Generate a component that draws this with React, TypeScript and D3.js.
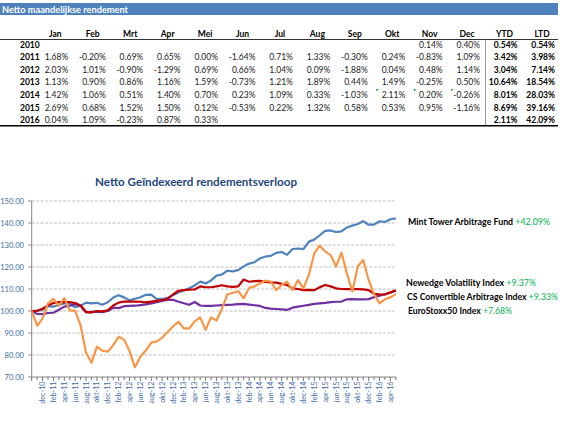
import React from 'react';
import * as d3 from 'd3';

// ---------- Table data ----------
const tableTitle = 'Netto maandelijkse rendement';
const monthCols = ['Jan', 'Feb', 'Mrt', 'Apr', 'Mei', 'Jun', 'Jul', 'Aug', 'Sep', 'Okt', 'Nov', 'Dec'];
const summaryCols = ['YTD', 'LTD'];
const years = ['2010', '2011', '2012', '2013', '2014', '2015', '2016'];
const r2010 = [null, null, null, null, null, null, null, null, null, null, 0.14, 0.40];
const r2011 = [1.68, -0.20, 0.69, 0.65, 0.00, -1.64, 0.71, 1.33, -0.30, 0.24, -0.83, 1.09];
const r2012 = [2.03, 1.01, -0.90, -1.29, 0.69, 0.66, 1.04, 0.09, -1.88, 0.04, 0.48, 1.14];
const r2013 = [1.13, 0.90, 0.86, 1.16, 1.59, -0.73, 1.21, 1.89, 0.44, 1.49, -0.25, 0.50];
const r2014 = [1.42, 1.06, 0.51, 1.40, 0.70, 0.23, 1.09, 0.33, -1.03, 2.11, 0.20, -0.26];
const r2015 = [2.69, 0.68, 1.52, 1.50, 0.12, -0.53, 0.22, 1.32, 0.58, 0.53, 0.95, -1.16];
const r2016 = [0.04, 1.09, -0.23, 0.87, 0.33, null, null, null, null, null, null, null];
const ytd = [0.54, 3.42, 3.04, 10.64, 8.01, 8.69, 2.11];
const ltd = [0.54, 3.98, 7.14, 18.54, 28.03, 39.16, 42.09];
const monthlyRows = [r2010, r2011, r2012, r2013, r2014, r2015, r2016];

// ---------- Chart data ----------
const chartTitle = 'Netto Geïndexeerd rendementsverloop';
const axisMonths = ['jan', 'feb', 'mrt', 'apr', 'mei', 'jun', 'jul', 'aug', 'sep', 'okt', 'nov', 'dec'];
const axisYears = ['10', '11', '12', '13', '14', '15', '16'];
const yTicks = [70, 80, 90, 100, 110, 120, 130, 140, 150];

// okt-10 .. mei-16
const mintTower = [100, 100.14, 100.54, 102.23, 102.03, 102.73, 103.40, 103.40, 101.70, 102.42, 103.79, 103.47, 103.72, 102.86, 103.98,
  106.09, 107.17, 106.20, 104.83, 105.55, 106.25, 107.36, 107.45, 105.43, 105.47, 105.98, 107.19,
  108.40, 109.38, 110.32, 111.60, 113.37, 112.54, 113.90, 116.06, 116.57, 118.31, 118.01, 118.60,
  120.28, 121.56, 122.18, 123.89, 124.76, 125.04, 126.41, 126.82, 125.52, 128.17, 128.42, 128.09,
  131.53, 132.43, 134.44, 136.46, 136.62, 135.90, 136.20, 137.99, 138.79, 139.53, 140.86, 139.22,
  139.28, 140.80, 140.47, 141.69, 142.09];
const newedge = [100, 100.1, 101, 102.5, 103.6, 104, 104, 104.1, 103.6, 102.5, 99.6, 99.3, 100, 99.8, 100.3,
  102.5, 103.8, 104.3, 104.3, 104.3, 104.2, 103.9, 104.3, 104.6, 105, 105.5, 107.5,
  109.2, 109.5, 109.7, 109.8, 111.2, 110.8, 110.8, 111.2, 111.7, 111.2, 111, 111.2,
  114.3, 113.3, 113.6, 113.7, 113.2, 113, 112.9, 112.3, 111.8, 110.3, 110, 109.5,
  109.6, 109.5, 110.8, 111.8, 111.2, 110.3, 110, 109.9, 109.9, 109.9, 109.8, 109.5,
  107.8, 107.6, 107.5, 108.5, 109.37];
const csConvertible = [100, 98.7, 98.6, 99.1, 99.2, 100.6, 102, 102.4, 103.1, 102.3, 99.4, 99.6, 99.7, 99.5, 100,
  101.5, 101.3, 102.2, 102.3, 102.4, 102.7, 103, 103.5, 104, 104.6, 105.2, 105.1,
  104.2, 103.5, 102.8, 104.1, 102.5, 102.3, 102.3, 102.5, 102.7, 102.8, 102.9, 103.1,
  103.2, 102.9, 102.6, 102.3, 101.4, 101.1, 100.9, 100.7, 100.5, 101.5, 102, 102.4,
  102.8, 103.2, 103.5, 103.7, 104, 104.2, 104.3, 105.3, 105.4, 105.3, 105.3, 105.4,
  106.3, 107, 107.6, 108.3, 109.33];
const euroStoxx = [100, 93.3, 96.5, 103.5, 105.5, 102.3, 105.8, 100.3, 100.1, 93.5, 81, 76.5, 83.8, 82, 81.5,
  84.5, 88.3, 87, 81.8, 74.4, 79.2, 82, 85.6, 86.2, 87.8, 90.5, 93,
  95.1, 92.1, 92.1, 95.3, 97.1, 91.4, 97.1, 95.6, 101, 107.5, 108.3, 109,
  105.8, 110.5, 111.2, 112.5, 113.8, 113.4, 109.5, 111.8, 113.3, 109.5, 114, 110.3,
  116.4, 126.2, 129.7, 127, 125.5, 120.2, 126.5, 117.1, 108.8, 120.2, 123.2, 114.1,
  107.7, 103.5, 105.3, 106.2, 107.68];

const seriesNames = ['Mint Tower Arbitrage Fund', 'Newedge Volatility Index', 'CS Convertible Arbitrage Index', 'EuroStoxx50 Index'];
const seriesTotals = ['+42.09%', '+9.37%', '+9.33%', '+7.68%'];
const seriesColors = ['#4F81BD', '#C00000', '#7030A0', '#F79646'];

const FONT = 'Lato, "Open Sans", sans-serif';

function buildCategories() {
  const out: string[] = [];
  axisYears.forEach((y) => axisMonths.forEach((m) => out.push(`${m}-${y}`)));
  const start = out.indexOf('okt-10');
  const end = out.indexOf('mei-16');
  return out.slice(start, end + 1);
}

export default function App() {
  const W = 565, H = 448;
  const categories = buildCategories();

  // table scales
  const cols = [...monthCols, ...summaryCols];
  const colRight = d3.scalePoint<string>().domain(cols).range([68.3, 555]);
  const rowY = d3.scalePoint<string>().domain(years).range([44.5, 120.2]);
  const fmt = (v: number) => `${v.toFixed(2)}%`;

  // chart scales
  const x = d3.scaleLinear().domain([0, categories.length - 1]).range([31.7, 395.8]);
  const y = d3.scaleLinear().domain([70, 150]).range([377, 201]);
  const line = d3.line<number>().x((_, i) => x(i)).y((d) => y(d));
  const allSeries = [mintTower, newedge, csConvertible, euroStoxx];
  const drawOrder = [0, 2, 1, 3];

  const labelPos = [
    { x: 408, y: 224.5, w: 142 },
    { x: 406, y: 286.3, w: 130 },
    { x: 407, y: 300.3, w: 151 },
    { x: 408, y: 313.7, w: 104 },
  ];

  return (
    <svg width={W} height={H} style={{ position: 'absolute', left: 0, top: 0, background: '#fff' }} fontFamily={FONT}>
      <rect x={0} y={0} width={W} height={H} fill="#fff" />
      {/* Table header bar */}
      <rect x={0} y={3} width={558} height={12} fill="#4F81BD" />
      <text x={2} y={12.6} fill="#fff" fontSize={9} fontWeight="bold" textLength={126} lengthAdjust="spacingAndGlyphs">{tableTitle}</text>

      {cols.map((c) => (
        <text key={c} x={(colRight(c) as number) - 13} y={36.8} fontSize={8.5} fontWeight="bold" textAnchor="middle" fill="#000">{c}</text>
      ))}
      <line x1={0} x2={558} y1={39.5} y2={39.5} stroke="#000" strokeWidth={0.8} />
      <line x1={485.5} x2={485.5} y1={39.5} y2={125.5} stroke="#808080" strokeWidth={0.8} />
      <line x1={0} x2={558} y1={125.7} y2={125.7} stroke="#000" strokeWidth={1.6} />

      {years.map((yr, r) => {
        const cy = rowY(yr) as number;
        return (
          <g key={yr}>
            <text x={20} y={cy + 3} fontSize={8.5} fontWeight="bold" fill="#000">{yr}</text>
            {monthlyRows[r].map((v, j) => v === null ? null : (
              <text key={j} x={colRight(monthCols[j]) as number} y={cy + 3} fontSize={8.5} textAnchor="end" fill="#1a1a1a">{fmt(v)}</text>
            ))}
            <text x={colRight('YTD') as number} y={cy + 3} fontSize={8.5} fontWeight="bold" textAnchor="end" fill="#000">{fmt(ytd[r])}</text>
            <text x={colRight('LTD') as number} y={cy + 3} fontSize={8.5} fontWeight="bold" textAnchor="end" fill="#000">{fmt(ltd[r])}</text>
          </g>
        );
      })}
      {/* Excel green error markers (2014 Okt/Nov/Dec) */}
      {['Okt', 'Nov', 'Dec'].map((m) => {
        const j = monthCols.indexOf(m);
        const lx = (colRight(monthCols[j - 1]) as number) + 8.5;
        const ty = (rowY('2014') as number) - 6;
        return <path key={m} d={`M${lx},${ty} h2.5 L${lx},${ty + 2.5} Z`} fill="#1E8F3A" />;
      })}

      {/* Chart title */}
      <text x={196} y={186} fontSize={12} fontWeight="bold" fill="#1F497D" textAnchor="middle" textLength={202} lengthAdjust="spacingAndGlyphs">{chartTitle}</text>

      {/* Gridlines */}
      {yTicks.filter((t) => t > 70).map((t) => (
        <line key={t} x1={x(0)} x2={x(categories.length - 1)} y1={y(t)} y2={y(t)} stroke="#ADADAD" strokeWidth={0.8} strokeDasharray="3 1.5" />
      ))}
      {/* Y axis */}
      <line x1={x(0)} x2={x(0)} y1={y(150)} y2={y(70)} stroke="#868686" strokeWidth={1} />
      {yTicks.map((t) => (
        <g key={t}>
          <line x1={x(0) - 3.5} x2={x(0)} y1={y(t)} y2={y(t)} stroke="#868686" strokeWidth={1} />
          <text x={24} y={y(t) + 2.7} fontSize={7.6} textAnchor="end" fill="#3F6DAA">{t.toFixed(2)}</text>
        </g>
      ))}
      {/* X axis */}
      <line x1={x(0)} x2={x(categories.length - 1)} y1={y(70)} y2={y(70)} stroke="#868686" strokeWidth={1} />
      {categories.map((c, i) => (
        <line key={c} x1={x(i)} x2={x(i)} y1={y(70)} y2={y(70) + (i % 2 === 0 ? 4 : 3)} stroke="#555" strokeWidth={0.8} />
      ))}
      {categories.map((c, i) => (i % 2 === 0 && i > 0) ? (
        <text key={c} transform={`translate(${x(i)},${381.5}) rotate(-90)`} dy="0.35em" fontSize={7.2} textAnchor="end" fill="#3F6DAA">{c}</text>
      ) : null)}

      {/* Series */}
      {drawOrder.map((k) => (
        <path key={k} d={line(allSeries[k]) || ''} fill="none" stroke={seriesColors[k]} strokeWidth={2.2} strokeLinejoin="round" />
      ))}

      {/* End labels */}
      {seriesNames.map((n, k) => (
        <text key={n} x={labelPos[k].x} y={labelPos[k].y} fontSize={8.5} fontWeight="bold" fill="#000" textLength={labelPos[k].w} lengthAdjust="spacingAndGlyphs">
          {n} <tspan fill="#00B050" fontWeight="normal">{seriesTotals[k]}</tspan>
        </text>
      ))}
    </svg>
  );
}
